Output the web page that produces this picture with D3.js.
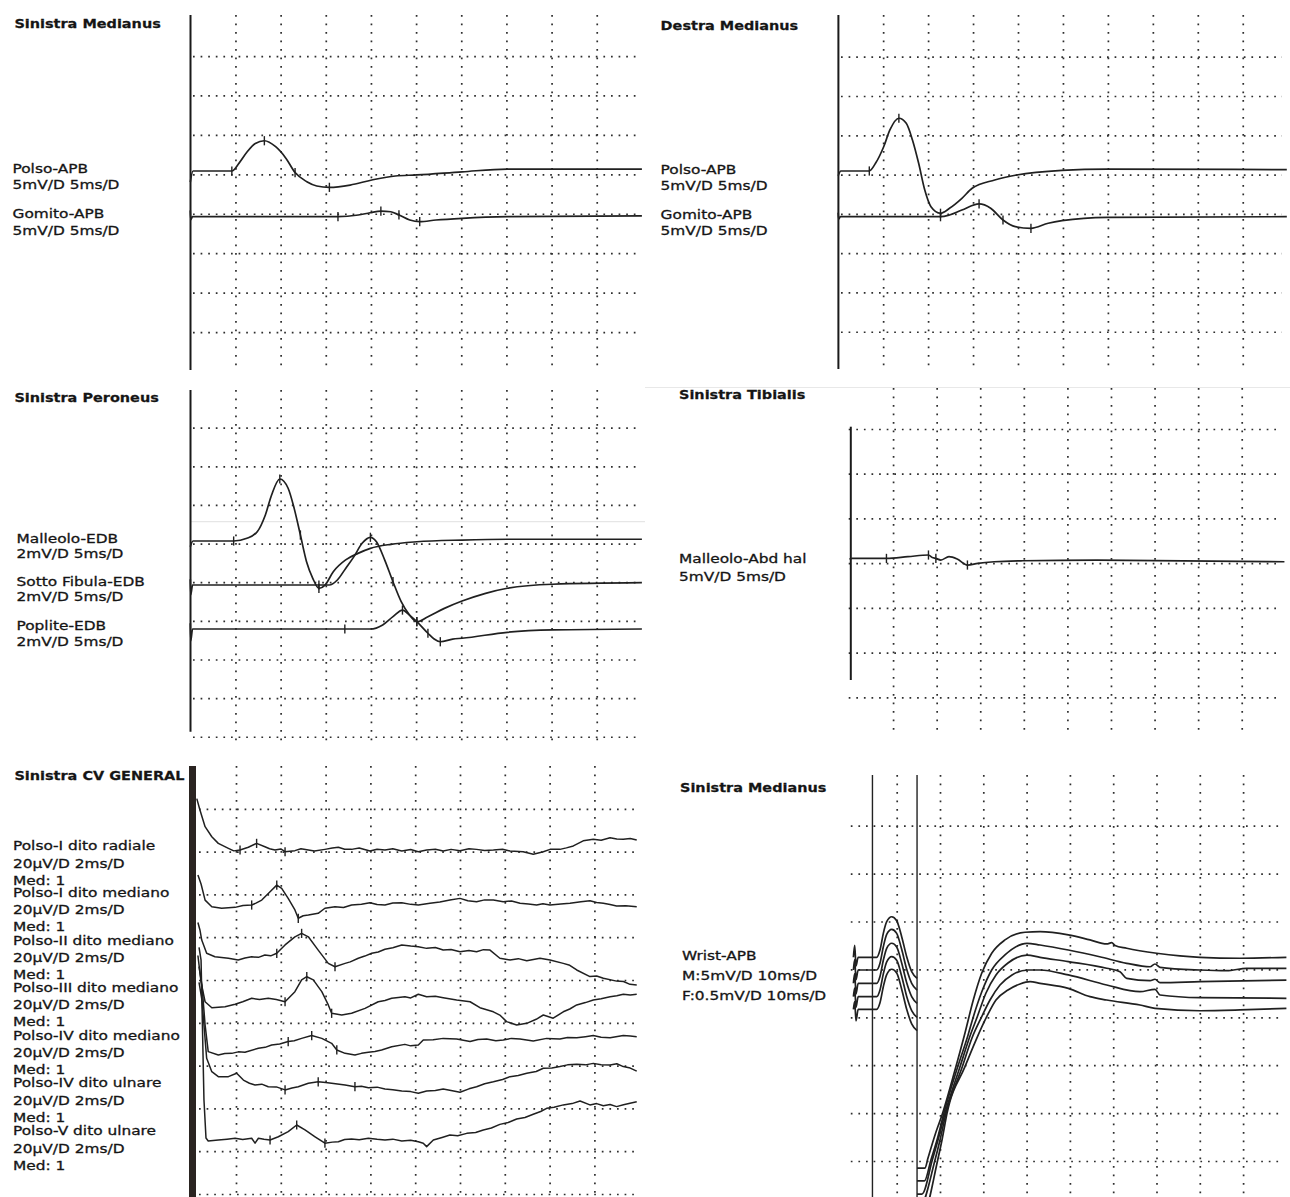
<!DOCTYPE html>
<html>
<head>
<meta charset="utf-8">
<script src="https://cdn.jsdelivr.net/npm/d3@7"></script>
<style>
  html, body { margin: 0; padding: 0; background: #fff; }
  svg { display: block; }
</style>
</head>
<body>
<svg id="chart" width="1290" height="1197"></svg>
<script>
// ---------------------------------------------------------------
// Nerve conduction report – six recording windows.
// Every trace is a list of [time (ms), amplitude] samples, amplitude
// in the unit of the window's sensitivity (mV or µV), relative to the
// trace's own baseline. Marker lists hold the latency cursor times (ms).
// ---------------------------------------------------------------

// ---- Sinistra Medianus (APB, 5 mV/D, 5 ms/D) ----
const smTitle = "Sinistra Medianus";
const smLabels = ["Polso-APB", "5mV/D 5ms/D", "Gomito-APB", "5mV/D 5ms/D"];
const smPolso = [[0,-1.4],[0.3,0],[4.6,0],[5.4,1.0],[6.3,2.45],[7.2,3.5],[8.2,3.84],[9.45,3.08],[10.6,1.6],[11.6,-0.2],[12.9,-1.36],[14.0,-1.9],[15.4,-2.07],[17.7,-1.78],[20.1,-1.14],[22.7,-0.63],[25.1,-0.5],[30.1,-0.1],[35.1,0.25],[50,0.25]];
const smPolsoMarks = [4.6, 8.2, 11.6, 15.4];
const smGomito = [[0,0.8],[0.05,-0.4],[0.25,0],[16.35,0],[18.6,0.22],[19.9,0.5],[21.1,0.72],[22.2,0.63],[23.1,0.22],[24.3,-0.42],[25.4,-0.63],[27.2,-0.42],[30.1,-0.2],[35.1,0],[50,0.1]];
const smGomitoMarks = [16.35, 21.1, 23.1, 25.4];

// ---- Destra Medianus (APB, 5 mV/D, 5 ms/D) ----
const dmTitle = "Destra Medianus";
const dmLabels = ["Polso-APB", "5mV/D 5ms/D", "Gomito-APB", "5mV/D 5ms/D"];
const dmPolso = [[0,-0.6],[0.3,0],[3.46,0],[4.15,0.98],[5.06,3.09],[5.75,5.22],[6.75,6.71],[7.57,6.07],[8.26,3.95],[8.95,0.98],[9.63,-2.42],[10.32,-4.54],[11.38,-5.38],[12.38,-4.75],[13.76,-3.48],[14.9,-2.2],[17.41,-1.15],[19.84,-0.51],[24.89,0.09],[29.9,0.25],[49.9,0.17]];
const dmPolsoMarks = [3.46, 6.75, 11.38];
const dmGomito = [[0,0.5],[0.05,-0.3],[0.25,0],[11.38,0],[12.38,0.22],[13.76,0.85],[15.67,1.62],[16.96,1.07],[18.33,-0.42],[19.7,-1.27],[21.44,-1.48],[23.36,-0.84],[24.89,-0.51],[29.9,-0.08],[49.9,0]];
const dmGomitoMarks = [11.38, 15.67, 18.33, 21.44];

// ---- Sinistra Peroneus (EDB, 2 mV/D, 5 ms/D) ----
const spTitle = "Sinistra Peroneus";
const spLabels = ["Malleolo-EDB", "2mV/D 5ms/D", "Sotto Fibula-EDB", "2mV/D 5ms/D", "Poplite-EDB", "2mV/D 5ms/D"];
const spMalleolo = [[0,-0.3],[0.3,0],[4.8,0],[6.27,0.14],[7.41,0.48],[8.31,1.35],[9.0,2.38],[9.91,3.21],[10.83,2.73],[11.5,1.69],[12.19,0.31],[12.87,-1.07],[13.56,-1.93],[14.24,-2.45],[14.92,-2.28],[15.83,-1.59],[17.2,-0.98],[18.56,-0.64],[19.94,-0.38],[22.22,-0.17],[25.08,-0.04],[30.09,0.05],[35.1,0.09],[50,0.09]];
const spMalleoloMarks = [4.8, 9.91, 12.19, 14.24];
const spSotto = [[0,0.3],[0.05,-0.5],[0.25,0],[15.38,0],[16.28,0.26],[17.2,0.86],[18.12,1.47],[19.02,2.16],[19.94,2.47],[20.61,2.24],[21.53,1.29],[22.44,0.17],[23.35,-0.86],[24.27,-1.55],[25.08,-1.9],[26.31,-1.64],[28.13,-1.21],[30.09,-0.83],[32.69,-0.43],[35.1,-0.17],[40.12,0.04],[50,0.12]];
const spSottoMarks = [14.24, 19.94, 22.44, 25.08];
const spPoplite = [[0,0.3],[0.05,-0.6],[0.25,0],[19.94,0],[21.3,0.21],[22.44,0.64],[23.49,0.98],[24.27,0.72],[25.08,0.38],[26.31,-0.22],[27.0,-0.52],[27.68,-0.66],[29.05,-0.52],[30.09,-0.48],[35.1,-0.17],[40.12,-0.05],[50,0]];
const spPopliteMarks = [17.11, 23.49, 25.08, 26.31, 27.68];

// ---- Sinistra Tibialis (Abd hal, 5 mV/D, 5 ms/D) ----
const stTitle = "Sinistra Tibialis";
const stLabels = ["Malleolo-Abd hal", "5mV/D 5ms/D"];
const stMalleolo = [[0,0],[0.3,0.1],[4.24,0.1],[6.7,0.29],[9.06,0.48],[9.5,0.2],[9.91,0.1],[10.47,-0.08],[11.41,0.29],[12.36,0.03],[13.53,-0.64],[14.72,-0.45],[16.61,-0.27],[19.91,-0.16],[28.41,-0.08],[49.9,-0.27]];
const stMalleoloMarks = [4.24, 9.06, 9.91, 13.53];

// ---- Sinistra CV GENERAL (sensory, 20 µV/D, 2 ms/D) ----
const cvTitle = "Sinistra CV GENERAL";
const cvNames = ["Polso-I dito radiale", "Polso-I dito mediano", "Polso-II dito mediano", "Polso-III dito mediano", "Polso-IV dito mediano", "Polso-IV dito ulnare", "Polso-V dito ulnare"];
const cvScale = "20µV/D 2ms/D";
const cvAvg = "Med: 1";
const cvRadialeI = [[0.25,24],[0.39,18.7],[0.62,10.9],[0.92,6.2],[1.21,3.1],[1.66,0.8],[1.9,-0.4],[2.18,0],[2.55,1.3],[2.92,3.1],[3.29,1.5],[3.5,0.6],[3.74,0],[4.0,0.5],[4.19,-0.8],[4.63,-0.3],[4.9,0.6],[5.23,0],[5.5,-0.5],[5.97,0.3],[6.3,0.9],[6.57,1.3],[6.85,0.4],[7.16,0.3],[7.5,0.9],[7.98,-0.5],[8.3,0.4],[8.65,0],[9.0,0.6],[9.4,-0.5],[9.8,0.2],[10.14,-0.8],[10.51,0],[10.9,0.4],[11.25,-0.5],[11.6,0.3],[12.0,-0.3],[12.4,0.6],[12.74,0.3],[13.1,-0.2],[13.49,0],[13.9,0.4],[14.23,-0.5],[14.82,-0.8],[15.27,-2.0],[15.72,-0.8],[16.02,0.3],[16.46,0.3],[16.75,1.0],[17.06,1.9],[17.5,4.3],[17.95,5.0],[18.3,4.6],[18.7,5.7],[19.0,5.2],[19.29,5.0],[19.6,5.4],[19.89,4.7]];
const cvRadialeIMarks = [2.18, 2.92, 4.19];
const cvMedianoI = [[0.3,14],[0.44,9.8],[0.62,2.3],[0.92,-0.8],[1.36,-1.5],[1.96,-1.1],[2.31,-0.2],[2.7,0],[2.89,0.9],[3.15,2.3],[3.52,6.2],[3.82,9.3],[4.04,7.8],[4.33,3.1],[4.63,-2.3],[4.78,-6.2],[5.0,-5.0],[5.23,-4.7],[5.67,-3.9],[5.97,-1.5],[6.42,-0.8],[6.8,-1.2],[7.16,0],[7.6,0.4],[7.98,1.1],[8.3,0.2],[8.65,0],[9.0,0.9],[9.4,1.1],[9.8,0.3],[10.14,0],[10.66,0.8],[11.1,1.4],[11.55,2.3],[12.0,3.1],[12.35,2.0],[12.74,1.5],[13.1,2.4],[13.49,2.3],[13.93,1.5],[14.3,1.9],[14.68,0.8],[15.05,0.5],[15.42,0],[15.7,0.6],[16.02,0],[16.5,0.5],[16.91,0.8],[17.4,1.5],[17.8,2.0],[18.1,1.2],[18.4,0.8],[18.7,0.2],[18.99,-0.5],[19.4,-0.3],[19.89,-0.8]];
const cvMedianoIMarks = [2.7, 3.82, 4.78];
const cvMedianoII = [[0.3,16],[0.39,12.5],[0.47,7.8],[0.69,1.6],[1.06,0],[1.66,-0.7],[2.1,-1.5],[2.4,-0.6],[2.7,0],[3.0,-0.3],[3.29,0.8],[3.55,0.4],[3.82,1.6],[4.19,5.5],[4.63,9.3],[4.93,10.9],[5.23,9.3],[5.67,3.1],[6.12,-3.1],[6.42,-4.7],[6.87,-3.1],[7.1,-2.4],[7.46,-0.7],[7.75,0.3],[8.06,1.6],[8.35,2.2],[8.65,3.5],[9.0,4.2],[9.4,5.5],[9.8,5.0],[10.14,4.7],[10.51,3.9],[10.9,4.3],[11.25,3.1],[11.6,3.4],[12.0,2.3],[12.4,2.9],[12.74,2.3],[13.05,3.3],[13.34,3.1],[13.78,-0.7],[14.23,-1.5],[14.6,-0.9],[14.98,-1.9],[15.57,-0.7],[16.02,-1.5],[16.61,-3.1],[16.9,-4.0],[17.21,-6.2],[17.8,-9.3],[18.1,-9.0],[18.4,-10.1],[18.99,-11.4],[19.3,-11.6],[19.59,-12.9],[19.89,-13.2]];
const cvMedianoIIMarks = [3.82, 4.93, 6.42];
const cvMedianoIII = [[0.3,20],[0.44,7.6],[0.62,-1.6],[0.92,-4.4],[1.51,-3.9],[1.96,-2.8],[2.3,-1.6],[2.7,0],[3.05,-0.5],[3.44,0],[3.8,-0.6],[4.19,-1.6],[4.63,3.1],[4.93,8.6],[5.16,10.1],[5.45,8.6],[5.83,3.1],[6.12,-3.1],[6.27,-7.0],[6.72,-7.8],[7.16,-7.0],[7.76,-4.7],[8.35,-1.6],[8.65,-1.0],[8.95,0],[9.54,0.7],[9.8,0.2],[10.14,1.9],[10.51,0.7],[10.9,1.0],[11.25,0.3],[11.85,-0.8],[12.45,-1.6],[12.89,-4.4],[13.49,-6.3],[13.8,-8.0],[14.08,-10.9],[14.53,-12.5],[14.98,-11.7],[15.4,-9.8],[15.72,-7.8],[16.16,-9.3],[16.61,-6.3],[16.9,-5.0],[17.21,-3.1],[17.6,-2.0],[17.95,-0.8],[18.3,-0.2],[18.7,0.7],[19.0,1.2],[19.29,1.9],[19.6,1.5],[19.89,1.9]];
const cvMedianoIIIMarks = [4.19, 5.16, 6.27];
const cvMedianoIV = [[0.35,40],[0.48,31.4],[0.62,12.8],[0.76,0.3],[1.21,-1.3],[1.5,-0.6],[1.81,-0.5],[2.1,0.2],[2.4,0],[3.0,1.9],[3.3,2.3],[3.59,3.4],[3.95,3.9],[4.33,5.0],[4.6,5.4],[4.93,6.5],[5.38,7.8],[5.83,6.5],[6.27,4.2],[6.5,1.1],[6.87,-0.5],[7.31,-1.3],[7.6,-0.5],[7.91,0],[8.2,0.4],[8.5,1.1],[8.95,2.6],[9.54,3.7],[9.8,3.0],[10.14,3.4],[10.36,5.7],[10.8,5.9],[11.25,6.5],[11.85,6.2],[12.45,5.0],[12.8,6.0],[13.19,6.2],[13.6,5.4],[13.93,5.7],[14.3,6.5],[14.68,6.2],[15.27,5.3],[15.87,6.5],[16.46,6.2],[16.8,6.9],[17.21,6.8],[17.6,7.3],[17.95,7.8],[18.3,7.0],[18.7,6.8],[19.29,7.8],[19.6,7.6],[19.89,7.3]];
const cvMedianoIVMarks = [4.33, 5.38, 6.5];
const cvUlnareIV = [[0.35,48],[0.48,39.7],[0.69,12.5],[0.92,6.2],[1.21,3.9],[1.66,3.9],[2.03,5.5],[2.33,2.3],[2.6,0.8],[2.85,0],[3.15,0.4],[3.44,-0.8],[3.8,-0.9],[4.19,-2.3],[4.5,-1.4],[4.78,-0.8],[5.23,0.8],[5.67,1.5],[6.0,1.2],[6.27,0.8],[6.87,0],[7.31,-0.8],[7.6,-0.6],[7.91,-1.3],[8.3,-1.0],[8.65,-1.9],[9.0,-2.2],[9.4,-2.8],[9.8,-3.1],[10.14,-3.9],[10.51,-2.8],[10.9,-2.6],[11.25,-1.9],[11.6,-2.6],[12.0,-3.4],[12.4,-1.8],[12.74,-0.8],[13.1,0.6],[13.49,1.5],[13.9,2.6],[14.23,3.9],[14.6,4.4],[14.98,5.5],[15.4,6.3],[15.72,7.8],[16.1,7.9],[16.46,8.6],[16.8,9.4],[17.21,9.7],[17.6,9.4],[17.95,10.1],[18.3,9.5],[18.7,9.3],[19.0,9.9],[19.29,8.6],[19.6,7.9],[19.89,6.5]];
const cvUlnareIVMarks = [4.19, 5.67, 7.31];
const cvUlnareV = [[0.35,90],[0.44,84.1],[0.57,18.7],[0.66,0.9],[0.76,-0.5],[1.21,0],[1.6,0.4],[1.96,0.8],[2.3,0.2],[2.7,0.8],[2.85,-1.5],[3.0,0.8],[3.25,0.3],[3.52,0],[3.89,1.5],[4.33,3.9],[4.71,7.0],[5.08,4.7],[5.53,1.5],[5.97,-1.5],[6.3,-1.0],[6.57,-0.8],[6.85,0.2],[7.16,0.5],[7.5,0.1],[7.91,0.8],[8.3,0.3],[8.65,0],[9.0,0.4],[9.4,-0.5],[9.8,-0.1],[10.14,-0.8],[10.36,-1.5],[10.51,-3.1],[10.81,0],[11.2,1.2],[11.55,2.3],[11.9,2.0],[12.3,3.1],[12.7,3.5],[13.04,4.7],[13.4,5.6],[13.78,7.3],[14.15,8.2],[14.53,9.8],[14.9,10.5],[15.27,12.0],[15.6,13.3],[15.87,14.8],[16.2,15.3],[16.61,16.4],[17.0,17.0],[17.36,18.2],[17.8,16.4],[18.1,17.0],[18.4,16.0],[18.7,16.6],[18.99,15.6],[19.3,16.5],[19.59,17.2],[19.89,17.9]];
const cvUlnareVMarks = [3.52, 4.71, 5.97];

// ---- Sinistra Medianus, Wrist-APB: M response (5 mV/D) and F responses (0.5 mV/D), 10 ms/D ----
const fwTitle = "Sinistra Medianus";
const fwLabels = ["Wrist-APB", "M:5mV/D 10ms/D", "F:0.5mV/D 10ms/D"];
const fwCursors = [4.4, 14.7];
const fwM1 = [[0,0],[0.3,1.25],[0.6,-0.9],[1.1,0],[5.38,0],[6.14,0.76],[6.91,2.5],[7.69,3.71],[8.85,4.23],[10.0,3.81],[11.15,2.15],[12.31,0.06],[13.46,-1.5],[14.7,-2.19]];
const fwM2 = [[0,0],[0.3,1.1],[0.6,-1.0],[1.1,0],[5.38,0],[6.14,0.70],[6.91,2.43],[7.69,3.72],[8.85,4.25],[10.0,3.83],[11.15,2.16],[12.31,0.07],[13.46,-1.39],[14.7,-2.09]];
const fwM3 = [[0,0],[0.3,1.0],[0.6,-1.1],[1.1,0],[5.38,0],[6.14,0.72],[6.91,2.4],[7.69,3.65],[8.85,4.18],[10.0,3.78],[11.15,2.12],[12.31,0.05],[13.46,-1.4],[14.7,-2.09]];
const fwM4 = [[0,0],[0.3,0.9],[0.6,-1.1],[1.1,0],[5.38,0],[6.14,0.7],[6.91,2.38],[7.69,3.64],[8.85,4.18],[10.0,3.8],[11.15,2.14],[12.31,0.03],[13.46,-1.45],[14.7,-2.15]];
const fwM5 = [[0,0],[0.3,0.8],[0.6,-1.2],[1.1,0],[5.38,0],[6.14,0.68],[6.91,2.36],[7.69,3.62],[8.85,4.18],[10.0,3.79],[11.15,2.1],[12.31,0.0],[13.46,-1.52],[14.7,-2.23]];
const fwF1 = [[14.7,-2.2],[16.54,-2.2],[17.23,-2.095],[18.85,-1.855],[20.69,-1.615],[23.46,-1.177],[25.77,-0.79],[27.69,-0.446],[29.63,-0.167],[31.94,0.042],[35.01,0.181],[39.63,0.261],[43.1,0.267],[49.63,0.233],[54.64,0.181],[58.5,0.139],[59.65,0.152],[60.42,0.123],[63.12,0.094],[70.05,0.042],[75.43,0.014],[80.05,0],[89.28,-0.01],[100,0]];
const fwF2 = [[14.7,-2.2],[16.42,-2.2],[17.92,-1.98],[19.31,-1.775],[20.92,-1.49],[24.09,-1.01],[26.47,-0.68],[27.69,-0.49],[29.63,-0.23],[31.94,0],[35.01,0.157],[40.09,0.279],[43.1,0.261],[49.63,0.209],[56.86,0.139],[63.12,0.07],[68.5,0.034],[69.65,0.063],[70.81,0.028],[80.05,0],[86.21,-0.007],[90.83,0.018],[100,0.018]];
const fwF3 = [[14.7,-2.2],[15.84,-2.2],[18.22,-1.845],[19.54,-1.636],[21.16,-1.357],[24.62,-0.871],[26.93,-0.55],[28.61,-0.349],[30.62,-0.101],[32.93,0.087],[35.7,0.212],[40.09,0.295],[43.1,0.271],[49.63,0.226],[58.5,0.157],[61.57,0.121],[63.12,0.052],[68.5,0.027],[69.65,0.042],[70.81,0.006],[80.05,0.017],[100,0.034]];
const fwF4 = [[14.7,-2.2],[15.27,-2.2],[18.85,-1.705],[20.0,-1.496],[21.39,-1.217],[25.15,-0.731],[27.39,-0.431],[29.63,-0.209],[31.55,-0.034],[33.86,0.122],[36.63,0.227],[40.32,0.279],[43.1,0.279],[49.63,0.227],[58.5,0.122],[66.19,0.052],[69.65,0.077],[70.81,0.018],[80.05,-0.01],[100,-0.017]];
const fwF5 = [[14.7,-2.2],[15.61,-2.2],[19.47,-1.573],[20.46,-1.364],[21.62,-1.086],[25.77,-0.599],[28.31,-0.321],[30.79,-0.077],[32.93,0.097],[35.7,0.201],[38.48,0.264],[40.79,0.288],[43.1,0.271],[49.63,0.219],[54.64,0.132],[58.5,0.097],[66.19,0.045],[69.65,0.01],[80.05,-0.015],[89.28,-0.007],[100,0.01]];

// ---------------------------------------------------------------
// Window layout (pixels) and trace wiring
// ---------------------------------------------------------------
const panels = [
  { // top left
    title: smTitle, titleAt: [14.4, 28],
    x0: 190.3, divW: 45.16, divX: 10, msPerDiv: 5,
    top: 16.6, divH: 39.43, divY: 9, rows: [1,2,3,4,5,6,7,8],
    hGridX: [193, 637], vGridY: [15, 371],
    axis: { x: 190.5, y1: 15, y2: 370 },
    labels: smLabels, labelX: 12.5, labelY: [172.9, 188.6, 217.9, 234.6],
    smooth: true,
    traces: [
      { row: 3.916, segs: [{ data: smPolso, perDiv: 5 }], marks: smPolsoMarks },
      { row: 5.075, segs: [{ data: smGomito, perDiv: 5 }], marks: smGomitoMarks }
    ]
  },
  { // top right
    title: dmTitle, titleAt: [660.6, 29.5],
    x0: 838.2, divW: 44.95, divX: 10, msPerDiv: 5,
    top: 17.41, divH: 39.29, divY: 9, rows: [1,2,3,4,5,6,7,8],
    hGridX: [841, 1282], vGridY: [15, 371],
    axis: { x: 838.4, y1: 15, y2: 369 },
    labels: dmLabels, labelX: 660.6, labelY: [173.6, 189.6, 218.6, 234.6],
    smooth: true,
    traces: [
      { row: 3.909, segs: [{ data: dmPolso, perDiv: 5 }], marks: dmPolsoMarks },
      { row: 5.072, segs: [{ data: dmGomito, perDiv: 5 }], marks: dmGomitoMarks }
    ]
  },
  { // middle left
    title: spTitle, titleAt: [14.4, 401.8],
    x0: 190.3, divW: 45.16, divX: 10, msPerDiv: 5,
    top: 389.07, divH: 38.63, divY: 9, rows: [1,2,3,4,5,6,7,8,9],
    hGridX: [193, 637], vGridY: [390, 742],
    axis: { x: 190.5, y1: 390, y2: 731.7 },
    labels: spLabels, labelX: 16.5, labelY: [542.9, 557.9, 586.3, 601.3, 629.6, 646.3],
    smooth: true,
    traces: [
      { row: 3.933, segs: [{ data: spMalleolo, perDiv: 2 }], marks: spMalleoloMarks },
      { row: 5.072, segs: [{ data: spSotto, perDiv: 2 }], marks: spSottoMarks },
      { row: 6.211, segs: [{ data: spPoplite, perDiv: 2 }], marks: spPopliteMarks }
    ]
  },
  { // middle right
    title: stTitle, titleAt: [679, 399],
    x0: 849.5, divW: 43.58, divX: 10, msPerDiv: 5,
    top: 384.28, divH: 44.72, divY: 8, rows: [1,2,3,4,5,6,7],
    hGridX: [848.7, 1278.7], vGridY: [388, 735],
    axis: { x: 850.8, y1: 426.7, y2: 680 },
    labels: stLabels, labelX: 679, labelY: [562.9, 581.3],
    smooth: true,
    traces: [
      { row: 3.914, segs: [{ data: stMalleolo, perDiv: 5 }], marks: stMalleoloMarks }
    ]
  },
  { // bottom left
    title: cvTitle, titleAt: [14.4, 780],
    x0: 191.2, divW: 44.8, divX: 10, msPerDiv: 2,
    top: 766, divH: 42.8, divY: 10, rows: [1,2,3,4,5,6,7,8,9,10],
    hGridX: [199, 634], vGridY: [766, 1197],
    bar: { x: 189, w: 7, y1: 766, y2: 1197 },
    labels: cvNames.flatMap(n => [n, cvScale, cvAvg]), labelX: 13,
    labelY: [845.7, 892.3, 940, 987.3, 1035, 1082.7, 1130.7].flatMap(y => [y + 4.6, y + 21.9, y + 39.1]),
    smooth: false, thin: true,
    traces: [
      { row: 1.963, segs: [{ data: cvRadialeI, perDiv: 20 }], marks: cvRadialeIMarks },
      { row: 3.248, segs: [{ data: cvMedianoI, perDiv: 20 }], marks: cvMedianoIMarks },
      { row: 4.456, segs: [{ data: cvMedianoII, perDiv: 20 }], marks: cvMedianoIIMarks },
      { row: 5.428, segs: [{ data: cvMedianoIII, perDiv: 20 }], marks: cvMedianoIIIMarks },
      { row: 6.689, segs: [{ data: cvMedianoIV, perDiv: 20 }], marks: cvMedianoIVMarks },
      { row: 7.453, segs: [{ data: cvUlnareIV, perDiv: 20 }], marks: cvUlnareIVMarks },
      { row: 8.738, segs: [{ data: cvUlnareV, perDiv: 20 }], marks: cvUlnareVMarks }
    ]
  },
  { // bottom right
    title: fwTitle, titleAt: [680, 791.5],
    x0: 853.4, divW: 43.3, divX: 10, msPerDiv: 10,
    top: 777.8, divH: 47.9, divY: 9, rows: [1,2,3,4,5,6,7,8],
    hGridX: [850.8, 1278.7], vGridY: [775, 1197],
    cursors: fwCursors, cursorY: [775, 1197],
    labels: fwLabels, labelX: 682, labelY: [959.6, 979.6, 999.6],
    smooth: true,
    traces: [
      { row: 3.747, segs: [{ data: fwM1, perDiv: 5 }, { data: fwF1, perDiv: 0.5 }], marks: [] },
      { row: 4.013, segs: [{ data: fwM2, perDiv: 5 }, { data: fwF2, perDiv: 0.5 }], marks: [] },
      { row: 4.290, segs: [{ data: fwM3, perDiv: 5 }, { data: fwF3, perDiv: 0.5 }], marks: [] },
      { row: 4.570, segs: [{ data: fwM4, perDiv: 5 }, { data: fwF4, perDiv: 0.5 }], marks: [] },
      { row: 4.833, segs: [{ data: fwM5, perDiv: 5 }, { data: fwF5, perDiv: 0.5 }], marks: [] }
    ]
  }
];

// ---------------------------------------------------------------
// Drawing
// ---------------------------------------------------------------
const svg = d3.select("#chart");
svg.append("rect").attr("width", 1290).attr("height", 1197).attr("fill", "#fff");

// faint page edges left by the printout
svg.append("line").attr("x1", 190).attr("x2", 645).attr("y1", 521.7).attr("y2", 521.7)
  .attr("stroke", "#e6e6e6").attr("stroke-width", 1.2);
svg.append("line").attr("x1", 645).attr("x2", 1290).attr("y1", 387.5).attr("y2", 387.5)
  .attr("stroke", "#e8e8e8").attr("stroke-width", 1.2);

const INK = "#202020";
const DOT = "#2e2e2e";

function label(g, s, x, y, bold) {
  g.append("text")
    .attr("transform", `translate(${x},${y}) scale(${bold ? 1.13 : 1.23},1)`)
    .attr("font-family", "'DejaVu Sans', Verdana, sans-serif")
    .attr("font-size", bold ? 12.8 : 12.5)
    .attr("font-weight", bold ? "bold" : "normal")
    .attr("fill", "#151515")
    .attr("stroke", "#151515")
    .attr("stroke-width", bold ? 0.25 : 0.3)
    .text(s);
}

function valueAt(data, t) {
  const i = d3.bisector(d => d[0]).left(data, t);
  if (i <= 0) return data[0][1];
  if (i >= data.length) return data[data.length - 1][1];
  const a = data[i - 1], b = data[i];
  if (b[0] === a[0]) return b[1];
  return a[1] + (t - a[0]) / (b[0] - a[0]) * (b[1] - a[1]);
}

panels.forEach(p => {
  const g = svg.append("g");
  const x = d3.scaleLinear().domain([0, p.msPerDiv * p.divX]).range([p.x0, p.x0 + p.divX * p.divW]);
  const row = d3.scaleLinear().domain([0, p.divY]).range([p.top, p.top + p.divY * p.divH]);

  // vertical dotted divisions (time)
  const vg = g.append("g")
    .attr("transform", `translate(0,${p.vGridY[0]})`)
    .call(d3.axisBottom(x)
      .tickValues(d3.range(1, p.divX).map(k => k * p.msPerDiv))
      .tickSize(p.vGridY[1] - p.vGridY[0]).tickFormat(""));
  vg.select(".domain").remove();
  vg.selectAll("line").attr("stroke", DOT).attr("stroke-width", 1.7).attr("stroke-dasharray", "1.7 6.8");

  // horizontal dotted divisions (amplitude)
  const hg = g.append("g")
    .attr("transform", `translate(${p.hGridX[0]},0)`)
    .call(d3.axisRight(row).tickValues(p.rows)
      .tickSize(p.hGridX[1] - p.hGridX[0]).tickFormat(""));
  hg.select(".domain").remove();
  hg.selectAll("line").attr("stroke", DOT).attr("stroke-width", 1.7).attr("stroke-dasharray", "1.7 5.9");

  // time-zero axis
  if (p.axis) {
    g.append("line").attr("x1", p.axis.x).attr("x2", p.axis.x)
      .attr("y1", p.axis.y1).attr("y2", p.axis.y2)
      .attr("stroke", "#1a1a1a").attr("stroke-width", 2);
  }
  if (p.bar) {
    g.append("rect").attr("x", p.bar.x).attr("y", p.bar.y1)
      .attr("width", p.bar.w).attr("height", p.bar.y2 - p.bar.y1)
      .attr("fill", "#2a2421");
  }
  if (p.cursors) {
    g.selectAll(".cursor").data(p.cursors).join("line")
      .attr("x1", d => x(d)).attr("x2", d => x(d))
      .attr("y1", p.cursorY[0]).attr("y2", p.cursorY[1])
      .attr("stroke", "#222").attr("stroke-width", 1.4);
  }

  // traces
  p.traces.forEach(tr => {
    const base = row(tr.row);
    tr.segs.forEach(seg => {
      const y = d3.scaleLinear().domain([0, seg.perDiv]).range([base, base - p.divH]);
      const line = d3.line().x(d => x(d[0])).y(d => y(d[1]))
        .curve(p.smooth ? d3.curveMonotoneX : d3.curveLinear);
      g.append("path").datum(seg.data).attr("d", line)
        .attr("fill", "none").attr("stroke", INK)
        .attr("stroke-width", p.thin ? 1.5 : 1.7)
        .attr("stroke-linejoin", "round");
    });
    const y0 = d3.scaleLinear().domain([0, tr.segs[0].perDiv]).range([base, base - p.divH]);
    g.selectAll(null).data(tr.marks).join("line")
      .attr("x1", d => x(d)).attr("x2", d => x(d))
      .attr("y1", d => y0(valueAt(tr.segs[0].data, d)) - 4.6)
      .attr("y2", d => y0(valueAt(tr.segs[0].data, d)) + 4.6)
      .attr("stroke", INK).attr("stroke-width", 1.4);
  });

  // texts
  label(g, p.title, p.titleAt[0], p.titleAt[1], true);
  p.labels.forEach((s, i) => label(g, s, p.labelX, p.labelY[i], false));
});
</script>
</body>
</html>
